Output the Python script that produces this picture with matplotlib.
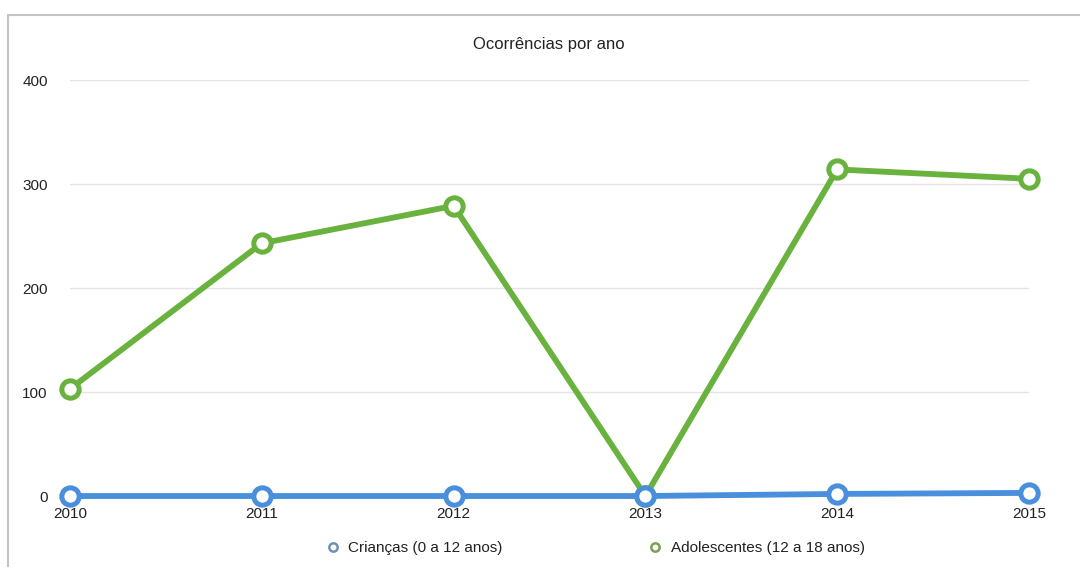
import matplotlib.pyplot as plt
from matplotlib.lines import Line2D
from matplotlib.patches import Rectangle

plt.rcParams['font.family'] = ['Liberation Sans', 'DejaVu Sans']

# Data
anos = [2010, 2011, 2012, 2013, 2014, 2015]
criancas = [0, 0, 0, 0, 2, 3]
adolescentes = [103, 243, 279, 0, 314, 305]
y_ticks = [0, 100, 200, 300, 400]

azul = '#4a8fdc'
verde = '#6ab23e'

fig = plt.figure(figsize=(10.8, 5.67), dpi=100)
ax = fig.add_axes([0.0648, 0.1252, 0.8880, 0.7337])

# outer frame around the chart
fig.patches.append(Rectangle((8 / 1080, -0.05), 1.2, 1 - 15 / 567 + 0.05,
                             transform=fig.transFigure, fill=False,
                             edgecolor='#c4c4c4', linewidth=1.5))

ax.plot(anos, adolescentes, color=verde, linewidth=4.2, marker='o',
        markersize=12.5, markerfacecolor='white', markeredgecolor=verde,
        markeredgewidth=3.6, zorder=3, clip_on=False)
ax.plot(anos, criancas, color=azul, linewidth=4.2, marker='o',
        markersize=12.5, markerfacecolor='white', markeredgecolor=azul,
        markeredgewidth=3.6, zorder=4, clip_on=False)

ax.set_xlim(2010, 2015)
ax.set_ylim(0, 400)
ax.set_xticks(anos)
ax.set_xticklabels([str(a) for a in anos])
ax.set_yticks(y_ticks)
ax.yaxis.grid(True, color='#e4e4e4', linewidth=1)
ax.set_axisbelow(True)
for s in ax.spines.values():
    s.set_visible(False)
ax.tick_params(axis='both', length=0, labelsize=11, colors='#222222')
ax.tick_params(axis='x', pad=8)
ax.tick_params(axis='y', pad=16)

fig.text(0.508, 1 - 45 / 567, 'Ocorrências por ano', ha='center', va='center',
         fontsize=12, color='#222222')

handles = [
    Line2D([], [], linestyle='none', marker='o', markersize=6,
           markerfacecolor='white', markeredgecolor='#6f8fb8', markeredgewidth=1.8),
    Line2D([], [], linestyle='none', marker='o', markersize=6,
           markerfacecolor='white', markeredgecolor='#7aa055', markeredgewidth=1.8),
]
fig.legend(handles, ['Crianças (0 a 12 anos)', 'Adolescentes (12 a 18 anos)'],
           loc='center', bbox_to_anchor=(0.551, 1 - 548 / 567), ncol=2,
           frameon=False, fontsize=11, handlelength=1.0, handletextpad=0.5,
           columnspacing=9.5, labelcolor='#222222')

fig.savefig('out.png', dpi=100)
